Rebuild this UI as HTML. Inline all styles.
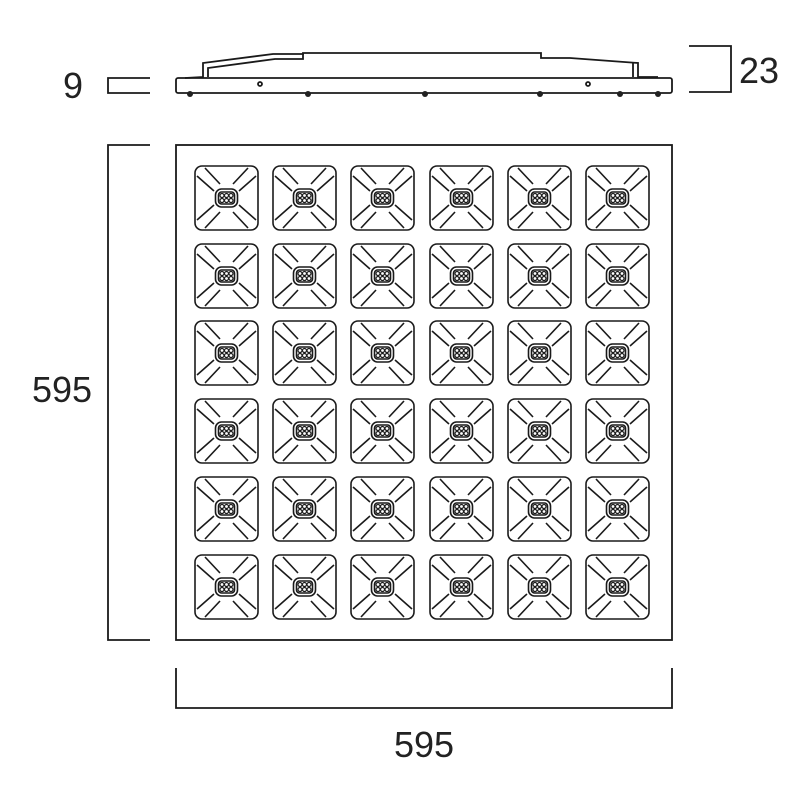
<!DOCTYPE html>
<html><head><meta charset="utf-8"><style>html,body{margin:0;padding:0;background:#fff}svg{display:block}</style></head>
<body>
<svg width="800" height="800" viewBox="0 0 800 800" xmlns="http://www.w3.org/2000/svg">
<defs>
<g id="t" fill="none" stroke="#1a1a1a" stroke-width="1.6">
<rect x="0" y="0" width="63" height="64" rx="7"/>
<line x1="2" y1="10" x2="19" y2="25"/><line x1="10" y1="2" x2="25" y2="18"/>
<line x1="61" y1="10" x2="44" y2="25"/><line x1="53" y1="2" x2="38" y2="18"/>
<line x1="2" y1="54" x2="19" y2="39"/><line x1="10" y1="62" x2="25" y2="46"/>
<line x1="61" y1="54" x2="44" y2="39"/><line x1="53" y1="62" x2="38" y2="46"/>
<rect x="20.5" y="23" width="22" height="18" rx="6"/>
<rect x="23.5" y="26" width="16" height="12" rx="3"/>
<circle cx="27" cy="29.5" r="2" stroke-width="1.2"/><circle cx="31.5" cy="29.5" r="2" stroke-width="1.2"/><circle cx="36" cy="29.5" r="2" stroke-width="1.2"/>
<circle cx="27" cy="34.5" r="2" stroke-width="1.2"/><circle cx="31.5" cy="34.5" r="2" stroke-width="1.2"/><circle cx="36" cy="34.5" r="2" stroke-width="1.2"/>
</g>
</defs>
<g fill="none" stroke="#1a1a1a" stroke-width="1.8">
<rect x="176" y="78" width="496" height="15" rx="2"/>
<path d="M185 78 L203 77 L203 63 L273 54 L303 54 L303 53 L541 53 L541 58 L570 58 L638 63 L638 77 L658 77"/>
<path d="M208 77 L208 68 L275 59 L303 59 L303 54"/>
<line x1="633" y1="63" x2="633" y2="77"/>
<circle cx="260" cy="84" r="2"/><circle cx="588" cy="84" r="2"/>
<path d="M150 78 H108 V93 H150"/>
<path d="M689 46 H731 V92 H689"/>
<rect x="176" y="145" width="496" height="495"/>
<path d="M150 145 H108 V640 H150"/>
<path d="M176 668 V708 H672 V668"/>
</g>
<g fill="#222">
<circle cx="190" cy="94" r="3"/><circle cx="308" cy="94" r="3"/><circle cx="425" cy="94" r="3"/><circle cx="540" cy="94" r="3"/><circle cx="620" cy="94" r="3"/><circle cx="658" cy="94" r="3"/>
</g>
<g>
<use href="#t" x="195" y="166"/><use href="#t" x="273" y="166"/><use href="#t" x="351" y="166"/><use href="#t" x="430" y="166"/><use href="#t" x="508" y="166"/><use href="#t" x="586" y="166"/>
<use href="#t" x="195" y="244"/><use href="#t" x="273" y="244"/><use href="#t" x="351" y="244"/><use href="#t" x="430" y="244"/><use href="#t" x="508" y="244"/><use href="#t" x="586" y="244"/>
<use href="#t" x="195" y="321"/><use href="#t" x="273" y="321"/><use href="#t" x="351" y="321"/><use href="#t" x="430" y="321"/><use href="#t" x="508" y="321"/><use href="#t" x="586" y="321"/>
<use href="#t" x="195" y="399"/><use href="#t" x="273" y="399"/><use href="#t" x="351" y="399"/><use href="#t" x="430" y="399"/><use href="#t" x="508" y="399"/><use href="#t" x="586" y="399"/>
<use href="#t" x="195" y="477"/><use href="#t" x="273" y="477"/><use href="#t" x="351" y="477"/><use href="#t" x="430" y="477"/><use href="#t" x="508" y="477"/><use href="#t" x="586" y="477"/>
<use href="#t" x="195" y="555"/><use href="#t" x="273" y="555"/><use href="#t" x="351" y="555"/><use href="#t" x="430" y="555"/><use href="#t" x="508" y="555"/><use href="#t" x="586" y="555"/>
</g>
<g font-family="Liberation Sans, sans-serif" font-size="36" fill="#222">
<text x="73" y="98" text-anchor="middle">9</text>
<text x="759" y="83" text-anchor="middle">23</text>
<text x="62" y="402" text-anchor="middle">595</text>
<text x="424" y="757" text-anchor="middle">595</text>
</g>
</svg>
</body></html>
